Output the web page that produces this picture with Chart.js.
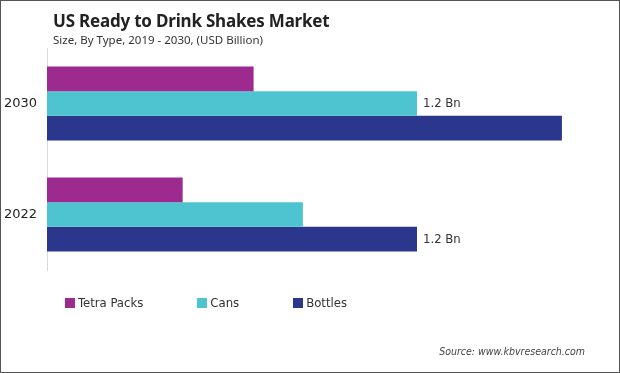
<!DOCTYPE html>
<html>
<head>
<meta charset="utf-8">
<script src="https://cdn.jsdelivr.net/npm/chart.js@4.4.1/dist/chart.umd.min.js"></script>
<style>
  html, body { margin: 0; padding: 0; background: #fff; }
  #wrap { position: relative; width: 620px; height: 373px; overflow: hidden; }
  #frame { position: absolute; left: 0; top: 0; width: 620px; height: 373px; box-sizing: border-box; border: 1.5px solid #555; pointer-events: none; }
  #chartCanvas { position: absolute; left: 0; top: 0; }
  .title { position: absolute; left: 53px; top: 9px; font-family: "Noto Sans", sans-serif; font-weight: 700; font-size: 17px; color: #222; letter-spacing: -0.2px; }
  .subtitle { position: absolute; left: 53px; top: 32px; font-family: "Noto Sans", sans-serif; font-size: 11.5px; color: #333; }
  #legend { position: absolute; left: 65px; top: 295px; display: flex; font-family: "DejaVu Sans Condensed", "DejaVu Sans", sans-serif; font-stretch: condensed; font-size: 13px; color: #333; }
  #legend .item { display: flex; align-items: center; }
  #legend .box { width: 10px; height: 10px; margin-right: 3px; }
  .source { position: absolute; right: 35px; top: 345px; font-family: "DejaVu Sans Condensed", "DejaVu Sans", sans-serif; font-stretch: condensed; font-style: italic; font-size: 10.5px; color: #444; }
</style>
</head>
<body>
<div id="wrap">
  <canvas id="chartCanvas" width="620" height="373"></canvas>
  <div class="title">US Ready to Drink Shakes Market</div>
  <div class="subtitle">Size, By Type, 2019 - 2030, (USD Billion)</div>
  <div id="legend"></div>
  <div class="source">Source: www.kbvresearch.com</div>
  <div id="frame"></div>
</div>
<script>
// years shown top to bottom
const years = ['2030', '2022'];
const seriesNames = ['Tetra Packs', 'Cans', 'Bottles'];
const seriesColors = ['#9C2A8F', '#4DC4CF', '#2B378C'];

// values in USD Billion, per year (same order as years)
const tetraPacks = [0.67, 0.44];
const cans = [1.2, 0.83];
const bottles = [1.67, 1.2];

// which bars carry a "1.2 Bn" label: [seriesIndex, yearIndex]
const labelledBars = [[1, 0], [2, 1]];
const labelText = '1.2 Bn';

const seriesValues = [tetraPacks, cans, bottles];

// Legend (html, spacing like the original)
const legendEl = document.getElementById('legend');
const legendGaps = [0, 54, 54];
legendEl.innerHTML = seriesNames.map((name, i) => `
  <div class="item" style="margin-left:${legendGaps[i]}px">
    <span class="box" style="background:${seriesColors[i]}"></span>${name}
  </div>`).join('');

// draws the value labels next to chosen bars
const barLabels = {
  id: 'barLabels',
  afterDatasetsDraw(chart) {
    const ctx = chart.ctx;
    ctx.save();
    ctx.font = '13px "DejaVu Sans Condensed", "DejaVu Sans", sans-serif';
    ctx.fillStyle = '#333';
    ctx.textBaseline = 'middle';
    labelledBars.forEach(([ds, idx]) => {
      const bar = chart.getDatasetMeta(ds).data[idx];
      ctx.fillText(labelText, bar.x + 6, bar.y);
    });
    ctx.restore();
  }
};

new Chart(document.getElementById('chartCanvas'), {
  type: 'bar',
  data: {
    labels: years,
    datasets: seriesNames.map((name, i) => ({
      label: name,
      data: seriesValues[i],
      backgroundColor: seriesColors[i],
      borderWidth: 0,
      barPercentage: 1,
      categoryPercentage: 0.667
    }))
  },
  options: {
    indexAxis: 'y',
    responsive: false,
    animation: false,
    layout: { padding: { top: 48, bottom: 103, left: 0, right: 18 } },
    scales: {
      x: { display: false, min: 0, max: 1.8 },
      y: {
        grid: { display: false, drawTicks: false },
        border: { display: true, color: '#d9d9d9', width: 1 },
        ticks: {
          color: '#222',
          padding: 10,
          font: { family: '"DejaVu Sans", sans-serif', size: 13 }
        },
        afterFit(scale) { scale.width = 47; }
      }
    },
    plugins: {
      legend: { display: false },
      tooltip: { enabled: false }
    }
  },
  plugins: [barLabels]
});
</script>
</body>
</html>
